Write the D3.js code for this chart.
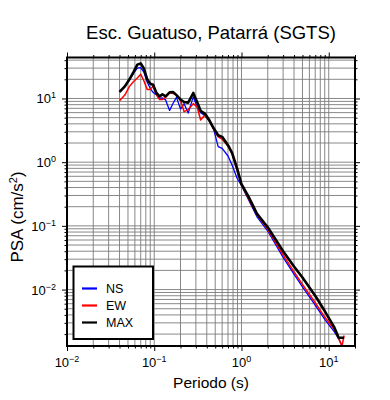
<!DOCTYPE html>
<html>
<head>
<meta charset="utf-8">
<script src="https://cdn.jsdelivr.net/npm/d3@7"></script>
<style>
  body { margin: 0; background: #fff; }
  svg text { font-family: "Liberation Sans", Arial, sans-serif; fill: #000; }
</style>
</head>
<body>
<svg width="390" height="400"></svg>
<script>
// periods (s) and PSA values (cm/s^2)
const periods = [0.040, 0.046, 0.052, 0.058, 0.064, 0.070, 0.076, 0.083, 0.090, 0.097,
                 0.106, 0.115, 0.124, 0.135, 0.150, 0.165, 0.180, 0.200, 0.220, 0.245,
                 0.280, 0.310, 0.340, 0.380, 0.430, 0.480, 0.540, 0.600, 0.700, 0.780,
                 0.890, 1.0, 1.2, 1.5, 2.0, 3.0, 4.0, 5.0, 7.0, 9.0,
                 11.5, 13.0, 14.2, 15.0];
const psaNS  = [12.5, 15.2, 19.5, 25, 30, 30.5, 26, 18.2, 14.3, 12.5,
                11.3, 10, 10.2, 9.5, 6.5, 8.5, 10.4, 6.8, 8.3, 5.9,
                10.6, 7.4, 6.0, 5.4, 4.4, 3.3, 1.75, 1.65, 1.25, 0.9,
                0.56, 0.43, 0.26, 0.14, 0.083, 0.032, 0.0175, 0.011, 0.0057, 0.0034,
                0.0022, 0.0017, 0.0013, null];
const psaEW  = [9.2, 11.3, 15.5, 18.5, 21, 24, 19, 13.9, 13.9, 15.6,
                11.5, 9.6, 9.6, 10.5, 12.3, 12.0, 11.3, 9.4, 6.2, 6.7,
                8.3, 7.4, 4.6, 5.5, 4.4, 3.3, 2.5, 2.3, 1.8, 1.35,
                0.75, 0.44, 0.27, 0.15, 0.088, 0.035, 0.019, 0.012, 0.0062, 0.0037,
                0.0024, 0.0017, 0.0013, 0.0019];
const psaMAX = [12.7, 15.5, 20, 26.2, 34, 35.5, 29.6, 20, 17, 16.4,
                12.2, 10.8, 11.6, 10.8, 12.5, 12.6, 11.3, 9.6, 8.8, 8.6,
                12.2, 8.8, 6.4, 5.8, 4.5, 3.4, 2.65, 2.5, 1.85, 1.4,
                0.8, 0.45, 0.29, 0.156, 0.095, 0.040, 0.023, 0.0155, 0.0080, 0.0046,
                0.0026, 0.00175, 0.00175, 0.00175];
const seriesNames = ["NS", "EW", "MAX"];
const xDomain = [0.01, 20];
const yDomain = [0.0013, 44];
const xMajor = [-2, -1, 0, 1];
const yMajor = [-2, -1, 0, 1];

const svg = d3.select("svg");
const pLeft = 67, pRight = 355, pTop = 57.5, pBottom = 346;

const x = d3.scaleLog().domain(xDomain).range([pLeft, pRight]);
const y = d3.scaleLog().domain(yDomain).range([pBottom, pTop]);

// all 1..9 x 10^n values inside a domain
function logTicks(dom) {
  const out = [];
  for (let n = -4; n <= 3; n++) {
    for (let k = 1; k <= 9; k++) {
      const v = k * Math.pow(10, n);
      if (v >= dom[0] * 0.9999 && v <= dom[1] * 1.0001) out.push(v);
    }
  }
  return out;
}
const isMajor = v => Math.abs(Math.log10(v) - Math.round(Math.log10(v))) < 1e-6;
const xAll = logTicks(xDomain), yAll = logTicks(yDomain);
const xMinor = xAll.filter(v => !isMajor(v));
const yMinor = yAll.filter(v => !isMajor(v));
const xMaj = xMajor.map(n => Math.pow(10, n));
const yMaj = yMajor.map(n => Math.pow(10, n));

// grid
const grid = svg.append("g").attr("stroke", "#7a7a7a").attr("stroke-width", 0.9);
grid.selectAll(".gx").data(xAll).enter().append("line")
  .attr("x1", d => x(d)).attr("x2", d => x(d))
  .attr("y1", pTop).attr("y2", pBottom);
grid.selectAll(".gy").data(yAll).enter().append("line")
  .attr("x1", pLeft).attr("x2", pRight)
  .attr("y1", d => y(d)).attr("y2", d => y(d));

// ticks on all four sides
function addTicks(axisFn, scale, vals, size, transform) {
  svg.append("g").attr("transform", transform)
    .call(axisFn(scale).tickValues(vals).tickSize(size).tickFormat(""))
    .call(g => g.select(".domain").remove())
    .call(g => g.selectAll("line").attr("stroke", "#000").attr("stroke-width", 1));
}
addTicks(d3.axisBottom, x, xMinor, 2.5, `translate(0,${pBottom})`);
addTicks(d3.axisBottom, x, xMaj, 5, `translate(0,${pBottom})`);
addTicks(d3.axisTop, x, xMinor, 2.5, `translate(0,${pTop})`);
addTicks(d3.axisTop, x, xMaj, 5, `translate(0,${pTop})`);
addTicks(d3.axisLeft, y, yMinor, 2.5, `translate(${pLeft},0)`);
addTicks(d3.axisLeft, y, yMaj, 5, `translate(${pLeft},0)`);
addTicks(d3.axisRight, y, yMinor, 2.5, `translate(${pRight},0)`);
addTicks(d3.axisRight, y, yMaj, 5, `translate(${pRight},0)`);

// tick labels 10^n
function expLabel(g, n) {
  g.append("tspan").text("10");
  g.append("tspan").attr("dy", -5).attr("font-size", "9px")
    .text(n < 0 ? "\u2212" + (-n) : String(n));
}
xMajor.forEach(n => {
  const t = svg.append("text").attr("x", x(Math.pow(10, n))).attr("y", 367)
    .attr("text-anchor", "middle").attr("font-size", "13px");
  expLabel(t, n);
});
yMajor.forEach(n => {
  const t = svg.append("text").attr("x", 56).attr("y", y(Math.pow(10, n)) + 5)
    .attr("text-anchor", "end").attr("font-size", "13px");
  expLabel(t, n);
});

// curves
const lineGen = d3.line()
  .defined(d => d.v != null)
  .x(d => x(d.t))
  .y(d => y(d.v));
const series = [
  {vals: psaNS, color: "#0000ff", w: 1.3},
  {vals: psaEW, color: "#ff0000", w: 1.5},
  {vals: psaMAX, color: "#000000", w: 2.6}
];
series.forEach(s => {
  svg.append("path")
    .datum(periods.map((t, i) => ({t: t, v: s.vals[i]})))
    .attr("fill", "none")
    .attr("stroke", s.color)
    .attr("stroke-width", s.w)
    .attr("stroke-linejoin", "round")
    .attr("d", lineGen);
});

// frame
svg.append("rect")
  .attr("x", pLeft).attr("y", pTop)
  .attr("width", pRight - pLeft).attr("height", pBottom - pTop)
  .attr("fill", "none").attr("stroke", "#000").attr("stroke-width", 2);

// legend
const lg = svg.append("g");
lg.append("rect").attr("x", 73.5).attr("y", 266.5).attr("width", 79.5).attr("height", 72.5)
  .attr("fill", "#fff").attr("stroke", "#000").attr("stroke-width", 2);
series.forEach((s, i) => {
  const yy = 288.5 + i * 17;
  lg.append("line").attr("x1", 82).attr("x2", 97).attr("y1", yy).attr("y2", yy)
    .attr("stroke", s.color).attr("stroke-width", 2.2);
  lg.append("text").attr("x", 106).attr("y", yy + 4.5)
    .attr("font-size", "12.5px").text(seriesNames[i]);
});

// title and axis labels
svg.append("text").attr("x", 211).attr("y", 39)
  .attr("text-anchor", "middle").attr("font-size", "18.5px")
  .text("Esc. Guatuso, Patarrá (SGTS)");
svg.append("text").attr("x", 211).attr("y", 387.5)
  .attr("text-anchor", "middle").attr("font-size", "15.5px")
  .text("Periodo (s)");
const yl = svg.append("text")
  .attr("transform", "translate(23,217) rotate(-90)")
  .attr("text-anchor", "middle").attr("font-size", "17px");
yl.append("tspan").text("PSA (cm/s");
yl.append("tspan").attr("dy", -6).attr("font-size", "11px").text("2");
yl.append("tspan").attr("dy", 6).text(")");
</script>
</body>
</html>
